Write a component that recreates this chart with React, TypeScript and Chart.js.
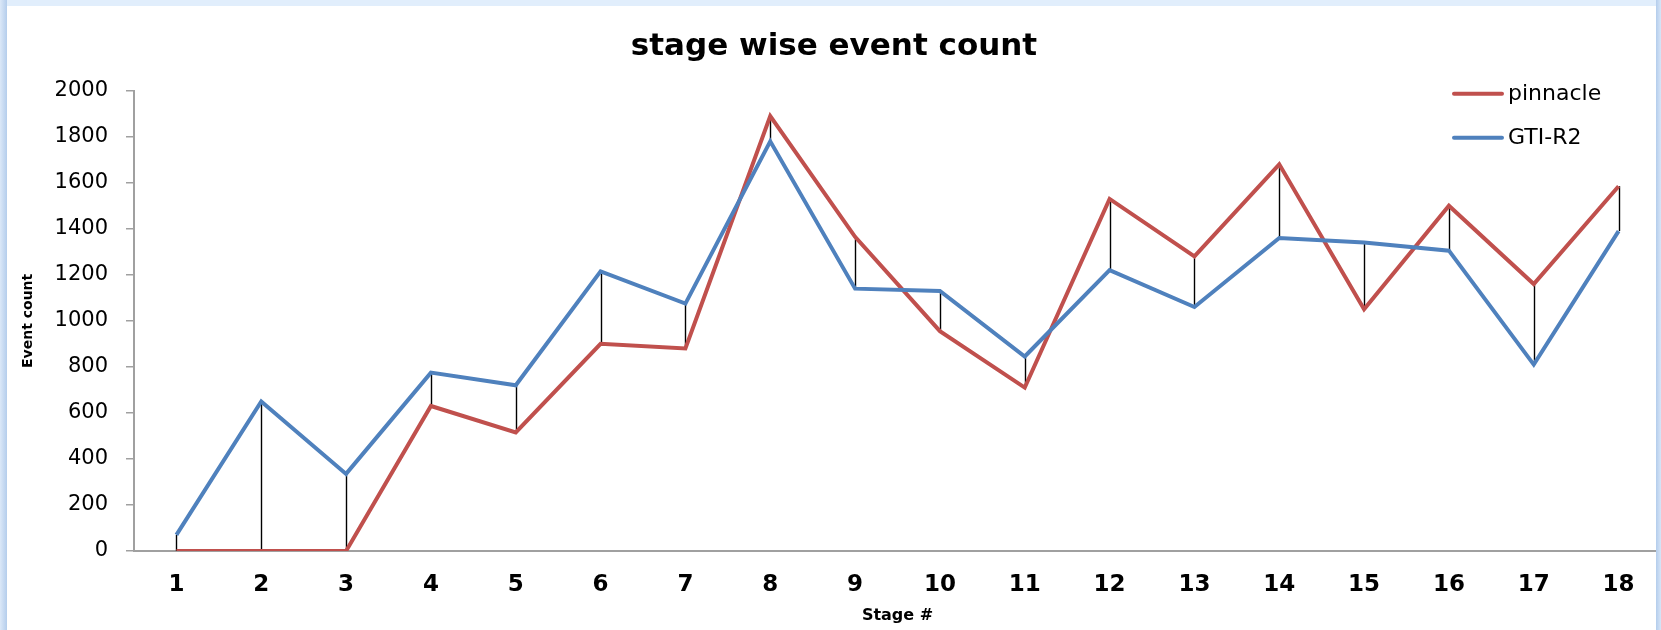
import React, { useEffect, useRef } from "react";
import { Chart, registerables } from "chart.js";

Chart.register(...registerables);

const stages = ["1", "2", "3", "4", "5", "6", "7", "8", "9", "10", "11", "12", "13", "14", "15", "16", "17", "18"];
const pinnacle = [0, 0, 0, 630, 515, 900, 880, 1890, 1365, 955, 710, 1530, 1280, 1680, 1050, 1500, 1160, 1585];
const gtiR2 = [70, 650, 335, 775, 720, 1215, 1075, 1780, 1140, 1130, 845, 1220, 1060, 1360, 1340, 1305, 810, 1390];
const seriesNames = ["pinnacle", "GTI-R2"];
const seriesColors = ["#c0504d", "#4f81bd"];
const chartTitle = "stage wise event count";
const xTitle = "Stage #";
const yTitle = "Event count";
const yMin = 0;
const yMax = 2000;
const yStep = 200;

const FONT = "'DejaVu Sans', Verdana, sans-serif";

const dropLines = {
  id: "dropLines",
  beforeDatasetsDraw(chart: any) {
    const ctx = chart.ctx;
    const metas = chart.data.datasets.map((_: any, i: number) => chart.getDatasetMeta(i));
    const n = chart.data.labels.length;
    ctx.save();
    ctx.strokeStyle = "#000000";
    ctx.lineWidth = 1.4;
    for (let i = 0; i < n; i++) {
      const pts = metas.map((m: any) => m.data[i]).filter(Boolean);
      if (!pts.length) continue;
      const ys = pts.map((p: any) => p.y);
      const x = Math.round(pts[0].x) + 0.5;
      ctx.beginPath();
      ctx.moveTo(x, Math.min(...ys));
      ctx.lineTo(x, Math.max(...ys));
      ctx.stroke();
    }
    ctx.restore();
  },
};

const insideLegend = {
  id: "insideLegend",
  afterDraw(chart: any) {
    const ctx = chart.ctx;
    const area = chart.chartArea;
    const x0 = area.right - 207;
    const y0 = area.top + 3;
    ctx.save();
    ctx.font = `22px ${FONT}`;
    ctx.textBaseline = "middle";
    ctx.textAlign = "left";
    chart.data.datasets.forEach((ds: any, i: number) => {
      const y = y0 + i * 44;
      ctx.strokeStyle = ds.borderColor;
      ctx.lineWidth = 4;
      ctx.lineCap = "round";
      ctx.beginPath();
      ctx.moveTo(x0, y);
      ctx.lineTo(x0 + 48, y);
      ctx.stroke();
      ctx.fillStyle = "#000000";
      ctx.fillText(ds.label, x0 + 54, y + 1);
    });
    ctx.restore();
  },
};

export default function App() {
  const ref = useRef<HTMLCanvasElement | null>(null);

  useEffect(() => {
    if (!ref.current) return;
    const chart = new Chart(ref.current, {
      type: "line",
      data: {
        labels: stages,
        datasets: [
          {
            label: seriesNames[0],
            data: pinnacle,
            borderColor: seriesColors[0],
            backgroundColor: seriesColors[0],
            borderWidth: 4,
            pointRadius: 0,
            tension: 0,
            order: 1,
          },
          {
            label: seriesNames[1],
            data: gtiR2,
            borderColor: seriesColors[1],
            backgroundColor: seriesColors[1],
            borderWidth: 4,
            pointRadius: 0,
            tension: 0,
            order: 0,
          },
        ],
      },
      options: {
        responsive: false,
        animation: false,
        devicePixelRatio: 1,
        layout: { padding: 0 },
        plugins: {
          legend: { display: false },
          tooltip: { enabled: false },
          title: {
            display: true,
            text: chartTitle,
            color: "#000000",
            font: { family: FONT, size: 31, weight: "bold" },
            padding: { top: 22, bottom: 25.5 },
          },
        },
        scales: {
          x: {
            type: "category",
            offset: true,
            afterFit: (s: any) => {
              s.height = 79;
            },
            grid: { display: true, drawOnChartArea: false, drawTicks: false },
            border: { display: true, color: "#a0a0a0", width: 2 },
            ticks: {
              color: "#000000",
              font: { family: FONT, size: 23, weight: "bold" },
              padding: 20,
              maxRotation: 0,
              autoSkip: false,
            },
            title: {
              display: true,
              text: xTitle,
              color: "#000000",
              font: { family: FONT, size: 16, weight: "bold" },
              padding: { top: 0, bottom: 5 },
            },
          },
          y: {
            min: yMin,
            max: yMax,
            afterFit: (s: any) => {
              s.width = 127;
            },
            grid: {
              display: true,
              drawOnChartArea: false,
              drawTicks: true,
              tickLength: 8,
              color: "#a0a0a0",
              lineWidth: 1.5,
            },
            border: { display: true, color: "#a0a0a0", width: 2 },
            ticks: {
              stepSize: yStep,
              color: "#000000",
              font: { family: FONT, size: 21 },
              padding: 18,
              callback: (v: any) => String(v),
            },
            title: {
              display: true,
              text: yTitle,
              color: "#000000",
              font: { family: FONT, size: 14, weight: "bold" },
              padding: { top: 12.6, bottom: 0 },
            },
          },
        },
      },
      plugins: [dropLines, insideLegend],
    });
    return () => chart.destroy();
  }, []);

  return (
    <div
      style={{
        position: "fixed",
        left: 0,
        top: 0,
        width: 1661,
        height: 630,
        overflow: "hidden",
        background: "#e1eefc",
      }}
    >
      <div
        style={{
          position: "absolute",
          left: 0,
          top: 0,
          width: 7,
          height: 630,
          background: "linear-gradient(to right, #dbe8f8, #b4cdec)",
        }}
      />
      <canvas
        ref={ref}
        width={1654}
        height={624}
        style={{ position: "absolute", left: 7, top: 6, width: 1654, height: 624, background: "#ffffff" }}
      />
      <div
        style={{
          position: "absolute",
          left: 1656,
          top: 0,
          width: 5,
          height: 630,
          background: "linear-gradient(to right, #b4cdec, #d6e5f7)",
          zIndex: 2,
        }}
      />
    </div>
  );
}
